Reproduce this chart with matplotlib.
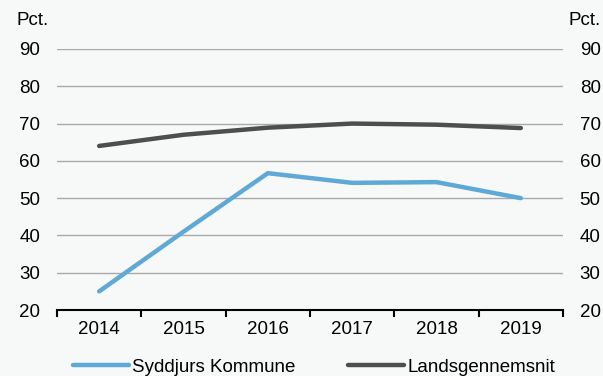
import matplotlib
matplotlib.use("Agg")
import matplotlib.pyplot as plt

years = ["2014", "2015", "2016", "2017", "2018", "2019"]
syddjurs = [25.0, 41.0, 56.7, 54.1, 54.3, 50.0]
lands = [64.0, 67.0, 68.9, 70.0, 69.7, 68.8]
yticks = [20, 30, 40, 50, 60, 70, 80, 90]

plt.rcParams["font.family"] = ["Liberation Sans", "DejaVu Sans"]
plt.rcParams["font.size"] = 13.5

bg = "#f7f8f8"
fig = plt.figure(figsize=(6.03, 3.76), dpi=100, facecolor=bg)
ax = fig.add_axes([0.0945, 0.1755, 0.8392, 0.6942], facecolor=bg)

x = list(range(len(years)))
ax.plot(x, syddjurs, color="#5ea9d6", linewidth=3.2, solid_capstyle="round",
        label="Syddjurs Kommune", zorder=3)
ax.plot(x, lands, color="#4d4e50", linewidth=3.2, solid_capstyle="round",
        label="Landsgennemsnit", zorder=3)

ax.set_xlim(-0.5, len(years) - 0.5)
ax.set_ylim(20, 90)
ax.set_yticks(yticks)
ax.yaxis.grid(True, color="#aaaaaa", linewidth=1)
ax.set_axisbelow(True)

ax.set_xticks([i + 0.5 for i in range(-1, len(years))])
ax.set_xticklabels([])
ax.set_xticks(x, minor=True)
ax.set_xticklabels(years, minor=True)
ax.tick_params(axis="x", which="major", direction="out", length=5, width=1.5, color="black")
ax.tick_params(axis="x", which="minor", length=0, pad=8)
ax.tick_params(axis="y", length=0, pad=12, labelright=True, right=False)

for s in ["top", "left", "right"]:
    ax.spines[s].set_visible(False)
ax.spines["bottom"].set_linewidth(1.5)
ax.spines["bottom"].set_color("black")

fig.text(0.028, 0.945, "Pct.", ha="left", va="center")
fig.text(0.997, 0.945, "Pct.", ha="right", va="center")

fig.legend(loc="lower center", bbox_to_anchor=(0.521, -0.045), ncol=2, frameon=False,
           handlelength=2.95, handletextpad=0.2, columnspacing=2.8)

fig.savefig("out.png", dpi=100, facecolor=bg)
